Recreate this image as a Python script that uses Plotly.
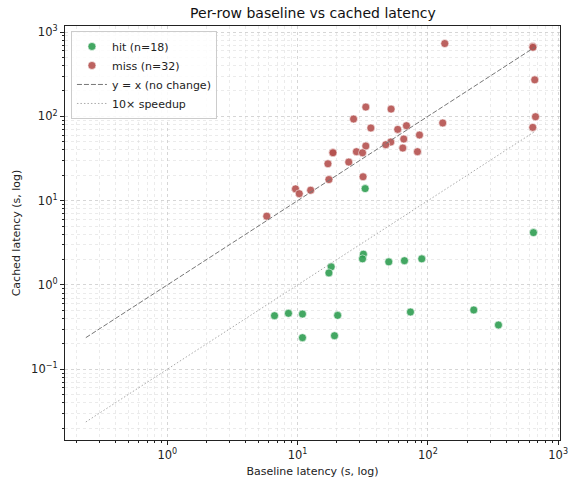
import plotly.graph_objects as go

# ---- data ----
hit_baseline = [646, 32.0, 31.5, 50.1, 66.1, 89.8, 18.1, 17.4, 6.65, 8.51,
                10.9, 20.3, 10.9, 19.2, 73.5, 225, 348, 33.0]
hit_cached = [4.18, 2.32, 2.04, 1.88, 1.94, 2.04, 1.64, 1.39, 0.432, 0.461,
              0.452, 0.436, 0.237, 0.250, 0.478, 0.505, 0.335, 13.9]

miss_baseline = [134.8, 638, 661, 670, 638, 130, 33.4, 52.2, 26.9, 36.5,
                 58.7, 68.5, 86.2, 65.3, 51.9, 47.5, 33.4, 64.2, 83.2, 28.3,
                 31.5, 18.6, 24.7, 17.1, 17.4, 31.8, 9.64, 10.3, 12.6, 5.80,
                 640, 18.7]
miss_cached = [731, 673, 271, 99, 74, 83.5, 129, 122, 93, 72.8,
               70.1, 77.5, 60.1, 53.9, 49.6, 46.1, 44.5, 42.1, 38.1, 38.1,
               37.0, 37.4, 28.7, 27.4, 17.8, 19.2, 13.8, 12.1, 13.3, 6.55,
               660, 37.0]

ref_line_x = [0.237, 660]
speedup_factor = 10

tick_vals = [0.1, 1, 10, 100, 1000]
tick_text = ["10<sup>−1</sup>", "10<sup>0</sup>", "10<sup>1</sup>", "10<sup>2</sup>", "10<sup>3</sup>"]

hit_color = "#2f9e52"
miss_color = "#b5524f"
font_family = "DejaVu Sans"

fig = go.Figure()
fig.add_trace(go.Scatter(
    x=hit_baseline, y=hit_cached, mode="markers",
    name=f"hit (n={len(hit_baseline)})",
    marker=dict(color=hit_color, size=8, opacity=0.9, line=dict(color="white", width=0.6)),
))
fig.add_trace(go.Scatter(
    x=miss_baseline, y=miss_cached, mode="markers",
    name=f"miss (n={len(miss_baseline)})",
    marker=dict(color=miss_color, size=8, opacity=0.9, line=dict(color="white", width=0.6)),
))
fig.add_trace(go.Scatter(
    x=ref_line_x, y=ref_line_x, mode="lines", name="y = x (no change)",
    line=dict(color="#777777", width=1, dash="5px,2px"),
))
fig.add_trace(go.Scatter(
    x=ref_line_x, y=[v / speedup_factor for v in ref_line_x], mode="lines", name="10× speedup",
    line=dict(color="#aaaaaa", width=1, dash="1.5px,2px"),
))

grid_major = "rgba(200,200,200,0.6)"
grid_minor = "rgba(215,215,215,0.5)"

axis_common = dict(
    type="log", automargin=False,
    showline=True, linecolor="#222222", linewidth=1.2, mirror=True,
    ticks="outside", ticklen=4, tickwidth=1, tickcolor="#222222",
    tickvals=tick_vals, ticktext=tick_text,
    showgrid=True, gridcolor=grid_major, griddash="dot", gridwidth=1,
    zeroline=False,
    tickfont=dict(family=font_family, size=11.5, color="#222222"),
    minor=dict(ticks="outside", ticklen=2, tickcolor="#222222", dtick="D1",
               showgrid=True, gridcolor=grid_minor, griddash="dot", gridwidth=0.8),
)

fig.update_layout(
    width=569, height=478,
    paper_bgcolor="white", plot_bgcolor="white",
    margin=dict(l=65, r=9, t=26, b=38),
    font=dict(family=font_family, size=11, color="#222222"),
    title=dict(text="Per-row baseline vs cached latency", x=0.55, xanchor="center",
               y=0.982, yanchor="top", automargin=False,
               font=dict(family=font_family, size=14, color="#111111")),
    xaxis=dict(axis_common, range=[-0.785, 3.014],
               title=dict(text="Baseline latency (s, log)", standoff=6,
                          font=dict(family=font_family, size=11))),
    yaxis=dict(axis_common, range=[-1.839, 3.072],
               title=dict(text="Cached latency (s, log)", standoff=8,
                          font=dict(family=font_family, size=11))),
    legend=dict(x=0.012, y=0.988, xanchor="left", yanchor="top",
                bgcolor="rgba(255,255,255,0.85)", bordercolor="#cccccc", borderwidth=1,
                font=dict(family=font_family, size=11), tracegroupgap=0,
                itemwidth=30),
    showlegend=True,
)

fig.write_html("out.html", config={"displayModeBar": False},
               post_script="document.body.style.margin='0';document.body.style.padding='0';")
